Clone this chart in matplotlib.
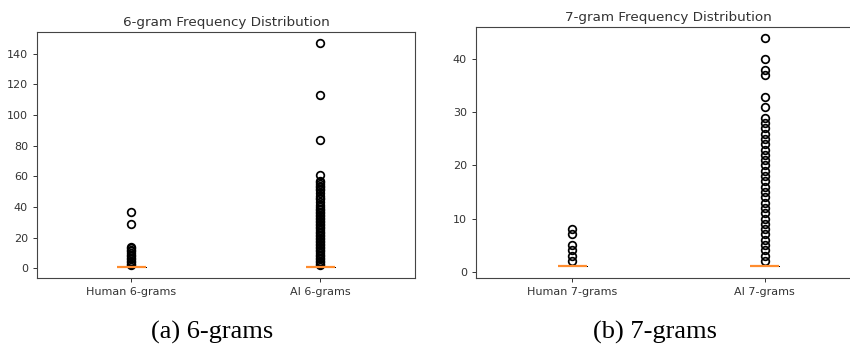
import numpy as np
import matplotlib.pyplot as plt

# n-gram frequencies (value, how many n-grams have it)
human6_vals = [1, 2, 3, 4, 5, 6, 7, 8, 9, 10, 11, 12, 13, 14, 29, 37]
ai6_vals = [1, 2, 3, 4, 5, 6, 7, 8, 9, 10, 11, 12, 13, 14, 15, 16, 17, 18, 19, 20,
            21, 22, 23, 24, 25, 26, 27, 28, 29, 30, 31, 32, 33, 34, 35, 36, 37, 38,
            39, 40, 41, 43, 45, 46, 47, 49, 51, 52, 53, 54, 55, 56, 57, 61, 84, 113, 147]
human7_vals = [1, 2, 3, 4, 5, 7, 8]
ai7_vals = [1, 2, 3, 4, 5, 6, 7, 8, 9, 10, 11, 12, 13, 14, 15, 16, 17, 18, 19, 20,
            21, 22, 23, 24, 25, 26, 27, 28, 29, 31, 33, 37, 38, 40, 44]
ONES = 500  # count of n-grams seen once (the bulk of each set)

labels6 = ["Human 6-grams", "AI 6-grams"]
labels7 = ["Human 7-grams", "AI 7-grams"]
titles = ["6-gram Frequency Distribution", "7-gram Frequency Distribution"]
captions = ["(a) 6-grams", "(b) 7-grams"]


def expand(vals):
    counts = [ONES] + [1] * (len(vals) - 1)
    return np.repeat(vals, counts)


fig = plt.figure(figsize=(8.5, 3.49), dpi=100)
ax1 = fig.add_axes([0.0435, 0.2034, 0.4447, 0.7057])
ax2 = fig.add_axes([0.56, 0.2043, 0.453, 0.719])

flier = dict(marker="o", markersize=5.5, markerfacecolor="none",
             markeredgecolor="black", markeredgewidth=1.25)
thin = dict(color="black", linewidth=0.5)

for ax, data, labs, title in [
    (ax1, [expand(human6_vals), expand(ai6_vals)], labels6, titles[0]),
    (ax2, [expand(human7_vals), expand(ai7_vals)], labels7, titles[1]),
]:
    ax.boxplot(data, flierprops=flier, boxprops=thin, whiskerprops=thin,
               capprops=thin,
               medianprops=dict(color="#ff8c2e", linewidth=1.6, zorder=3))
    ax.set_xticks([1, 2])
    ax.set_xticklabels(labs)
    ax.set_title(title, fontsize=9.7, color="#333333", pad=4)
    ax.tick_params(labelsize=8, colors="#333333", length=3, width=0.7)
    for s in ax.spines.values():
        s.set_color("#444444")
        s.set_linewidth(0.8)

fig.text(0.2494, 0.046, captions[0], ha="center", va="center",
         fontsize=19, family="Liberation Serif")
fig.text(0.771, 0.046, captions[1], ha="center", va="center",
         fontsize=19, family="Liberation Serif")

fig.savefig("out.png", dpi=100)
